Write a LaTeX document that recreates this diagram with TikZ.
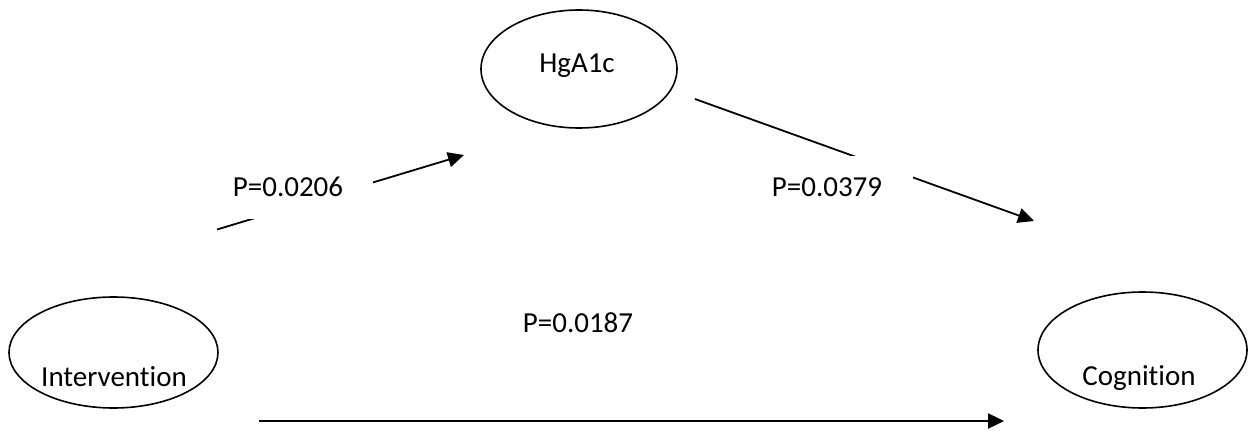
\documentclass[tikz,border=0pt]{standalone}
\usepackage{fontspec}
\setmainfont{Carlito}[Ligatures=NoCommon]
\usetikzlibrary{shapes.geometric,arrows.meta}
\begin{document}
\begin{tikzpicture}[x=1pt,y=-1pt,
  ell/.style={draw=black,line width=1.6pt,ellipse,inner sep=0pt},
  txt/.style={font=\fontsize{29}{32}\selectfont,inner sep=0pt},
  lbl/.style={fill=white,font=\fontsize{29}{32}\selectfont,inner sep=0pt},
  conn/.style={draw=black,line width=1.8pt,-{Triangle[length=16pt,width=15pt]}}]
\useasboundingbox (0,0) rectangle (1254,431);
% ellipses
\node[ell,minimum width=209pt,minimum height=111pt] (int) at (113.5,352.5) {};
\node[ell,minimum width=196pt,minimum height=118pt] (hga) at (579,69) {};
\node[ell,minimum width=209pt,minimum height=116pt] (cog) at (1142.5,350) {};
\node[txt] (intT) at (114,377) {Intervention};
\node[txt] (hgaT) at (577,66) {HgA1c};
\node[txt] (cogT) at (1139,378) {Cognition};
% connector endpoints
\coordinate (a1) at (217,229.5);
\coordinate (a2) at (464,155);
\coordinate (b1) at (695,99);
\coordinate (b2) at (1034,221);
\coordinate (c1) at (259,421);
\coordinate (c2) at (1004,421);
\draw[conn] (a1) -- (a2);
\draw[conn] (b1) -- (b2);
\draw[conn,line width=2.4pt] (c1) -- (c2);
% labels
\node[lbl,minimum width=170pt,minimum height=64pt] (p1) at (288,187) {P=0.0206};
\node[lbl,minimum width=172pt,minimum height=62pt] (p2) at (827,187) {P=0.0379};
\node[txt] (p3) at (578,323) {P=0.0187};
\end{tikzpicture}
\end{document}
